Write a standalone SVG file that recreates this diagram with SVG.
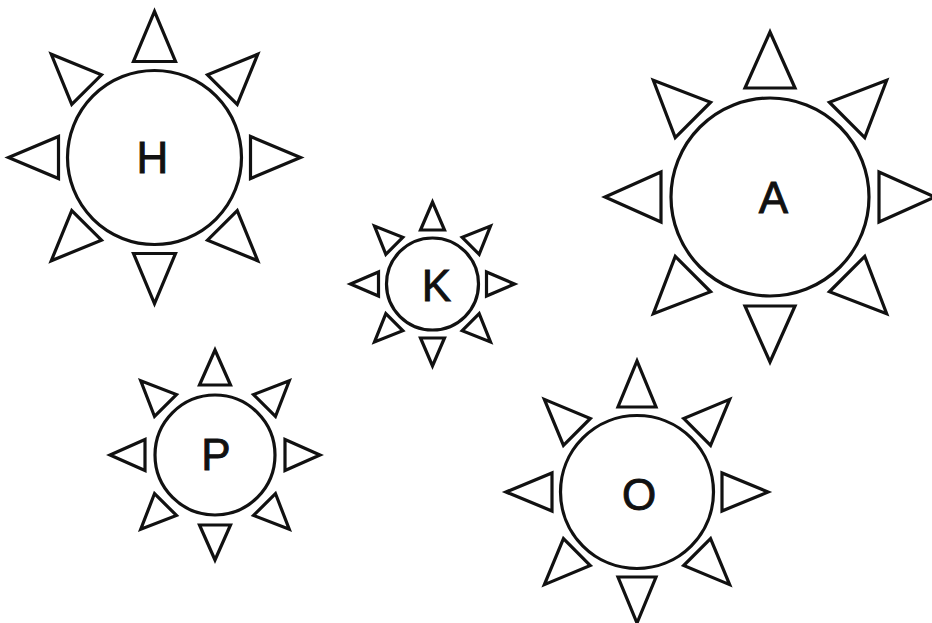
<svg xmlns="http://www.w3.org/2000/svg" xmlns:xlink="http://www.w3.org/1999/xlink" width="932" height="623" viewBox="0 0 932 623">
<style>
.c{fill:#fff;stroke:#111;stroke-width:3.2}
.r{fill:#fff;stroke:#111;stroke-width:3.2;stroke-linejoin:miter}
.t{font-family:"Liberation Sans",Arial,sans-serif;font-size:44px;fill:#111;stroke:#111;stroke-width:0.9;text-anchor:middle}
</style>
<rect width="932" height="623" fill="#fff"/>
<g id="sun-H" transform="translate(154.5,157.5)">
<circle class="c" r="87"/>
<g class="r">
<polygon points="-21,-96 21,-96 0,-146"/>
<polygon points="-21,-96 21,-96 0,-146" transform="rotate(45)"/>
<polygon points="-21,-96 21,-96 0,-146" transform="rotate(90)"/>
<polygon points="-21,-96 21,-96 0,-146" transform="rotate(135)"/>
<polygon points="-21,-96 21,-96 0,-146" transform="rotate(180)"/>
<polygon points="-21,-96 21,-96 0,-146" transform="rotate(225)"/>
<polygon points="-21,-96 21,-96 0,-146" transform="rotate(270)"/>
<polygon points="-21,-96 21,-96 0,-146" transform="rotate(315)"/>
</g>
<text class="t" x="-2" y="15.5">H</text>
</g>
<g id="sun-A" transform="translate(770,197)">
<circle class="c" r="99"/>
<g class="r">
<polygon points="-25,-109 25,-109 0,-165"/>
<polygon points="-25,-109 25,-109 0,-165" transform="rotate(45)"/>
<polygon points="-25,-109 25,-109 0,-165" transform="rotate(90)"/>
<polygon points="-25,-109 25,-109 0,-165" transform="rotate(135)"/>
<polygon points="-25,-109 25,-109 0,-165" transform="rotate(180)"/>
<polygon points="-25,-109 25,-109 0,-165" transform="rotate(225)"/>
<polygon points="-25,-109 25,-109 0,-165" transform="rotate(270)"/>
<polygon points="-25,-109 25,-109 0,-165" transform="rotate(315)"/>
</g>
<text class="t" x="3.5" y="16">A</text>
</g>
<g id="sun-K" transform="translate(432.5,284)">
<circle class="c" r="46"/>
<g class="r">
<polygon points="-12,-54 12,-54 0,-82"/>
<polygon points="-12,-54 12,-54 0,-82" transform="rotate(45)"/>
<polygon points="-12,-54 12,-54 0,-82" transform="rotate(90)"/>
<polygon points="-12,-54 12,-54 0,-82" transform="rotate(135)"/>
<polygon points="-12,-54 12,-54 0,-82" transform="rotate(180)"/>
<polygon points="-12,-54 12,-54 0,-82" transform="rotate(225)"/>
<polygon points="-12,-54 12,-54 0,-82" transform="rotate(270)"/>
<polygon points="-12,-54 12,-54 0,-82" transform="rotate(315)"/>
</g>
<text class="t" x="4" y="17">K</text>
</g>
<g id="sun-P" transform="translate(215,455)">
<circle class="c" r="60"/>
<g class="r">
<polygon points="-15.5,-70 15.5,-70 0,-105"/>
<polygon points="-15.5,-70 15.5,-70 0,-105" transform="rotate(45)"/>
<polygon points="-15.5,-70 15.5,-70 0,-105" transform="rotate(90)"/>
<polygon points="-15.5,-70 15.5,-70 0,-105" transform="rotate(135)"/>
<polygon points="-15.5,-70 15.5,-70 0,-105" transform="rotate(180)"/>
<polygon points="-15.5,-70 15.5,-70 0,-105" transform="rotate(225)"/>
<polygon points="-15.5,-70 15.5,-70 0,-105" transform="rotate(270)"/>
<polygon points="-15.5,-70 15.5,-70 0,-105" transform="rotate(315)"/>
</g>
<text class="t" x="1" y="14.5">P</text>
</g>
<g id="sun-O" transform="translate(637,492)">
<circle class="c" r="76.5"/>
<g class="r">
<polygon points="-19,-85 19,-85 0,-131"/>
<polygon points="-19,-85 19,-85 0,-131" transform="rotate(45)"/>
<polygon points="-19,-85 19,-85 0,-131" transform="rotate(90)"/>
<polygon points="-19,-85 19,-85 0,-131" transform="rotate(135)"/>
<polygon points="-19,-85 19,-85 0,-131" transform="rotate(180)"/>
<polygon points="-19,-85 19,-85 0,-131" transform="rotate(225)"/>
<polygon points="-19,-85 19,-85 0,-131" transform="rotate(270)"/>
<polygon points="-19,-85 19,-85 0,-131" transform="rotate(315)"/>
</g>
<text class="t" x="2" y="18">O</text>
</g>
<g id="connectors"/>
</svg>
